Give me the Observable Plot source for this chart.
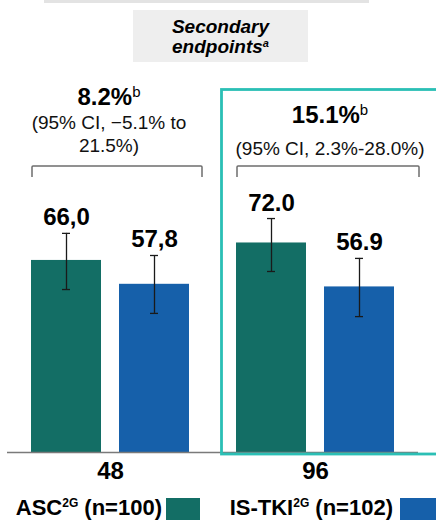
<!DOCTYPE html>
<html>
<head>
<meta charset="utf-8">
<script src="https://cdn.jsdelivr.net/npm/d3@7"></script>
<script src="https://cdn.jsdelivr.net/npm/@observablehq/plot@0.6"></script>
<style>
  html, body { margin: 0; padding: 0; background: #fff; }
  #chart svg { display: block; }
</style>
</head>
<body>
<div id="chart"></div>
<script>
// ---- data ----
const weekTicks = [48, 96];
const armNames = ["ASC", "IS-TKI"];
const armColors = ["#136e65", "#1660aa"];
const barWeeks = [48, 48, 96, 96];
const barArms = ["ASC", "IS-TKI", "ASC", "IS-TKI"];
const barValues = [66.0, 57.8, 72.0, 56.9];
const ciLow = [56.0, 47.8, 62.2, 46.7];
const ciHigh = [75.3, 67.7, 80.4, 66.7];
const valueLabels = ["66,0", "57,8", "72.0", "56.9"];
const diffLabels = ["8.2%", "15.1%"];
const diffCILines = [["(95% CI, \u22125.1% to", "21.5%)"], ["(95% CI, 2.3%-28.0%)"]];
const legendLabels = [["ASC", "2G", " (n=100)"], ["IS-TKI", "2G", " (n=102)"]];
const titleLines = ["Secondary", "endpoints"];

const rows = barValues.map((v, i) => ({
  week: barWeeks[i], arm: barArms[i], value: v, lo: ciLow[i], hi: ciHigh[i], label: valueLabels[i]
}));

const font = "Liberation Sans, Arial, Helvetica, sans-serif";

const plot = Plot.plot({
  width: 436, height: 520,
  marginTop: 161, marginBottom: 68, marginLeft: 29, marginRight: 41,
  style: {fontFamily: font, background: "#fff", overflow: "visible"},
  fx: {domain: weekTicks, paddingInner: 0.221, paddingOuter: 0, axis: null},
  x: {domain: armNames, paddingInner: 0.2, paddingOuter: 0, axis: null},
  y: {domain: [0, 100], axis: null},
  color: {domain: armNames, range: armColors},
  marks: [
    Plot.barY(rows, {fx: "week", x: "arm", y: "value", fill: "arm"}),
    Plot.ruleX(rows, {fx: "week", x: "arm", y1: "lo", y2: "hi", stroke: "#1a1a1a", strokeWidth: 1.3}),
    Plot.tickY(rows, {fx: "week", x: "arm", y: "lo", insetLeft: 31, insetRight: 31, stroke: "#1a1a1a", strokeWidth: 1.3}),
    Plot.tickY(rows, {fx: "week", x: "arm", y: "hi", insetLeft: 31, insetRight: 31, stroke: "#1a1a1a", strokeWidth: 1.3}),
    Plot.text(rows, {fx: "week", x: "arm", y: "hi", text: "label", lineAnchor: "bottom", dy: -8,
      fontSize: 24, fontWeight: "bold", fill: "#000"}),
    Plot.text(weekTicks.map(w => ({week: w})), {fx: "week", text: d => String(d.week), frameAnchor: "bottom",
      lineAnchor: "bottom", dy: 26, fontSize: 24, fontWeight: "bold", fill: "#000"})
  ]
});

document.getElementById("chart").appendChild(plot);

// ---- decorations ----
const svg = d3.select(plot);
const fx = plot.scale("fx");
const groupCenter = k => fx.apply(k) + fx.bandwidth / 2;
const annotShift = [-1, 15];
const yZero = plot.scale("y").apply(0);

const deco = svg.insert("g", ":first-child");
// top strip
deco.append("rect").attr("x", 44).attr("y", 0).attr("width", 325).attr("height", 3).attr("fill", "#e3e3e3");
// title box
deco.append("rect").attr("x", 133).attr("y", 10).attr("width", 175).attr("height", 52).attr("fill", "#eeeeee");

const over = svg.append("g").attr("font-family", font);
over.append("text").attr("x", 220.5).attr("y", 33).attr("text-anchor", "middle")
  .attr("font-size", 19).attr("font-weight", "bold").attr("font-style", "italic").text(titleLines[0]);
const t2 = over.append("text").attr("x", 220.5).attr("y", 53).attr("text-anchor", "middle")
  .attr("font-size", 19).attr("font-weight", "bold").attr("font-style", "italic");
t2.append("tspan").text(titleLines[1]);
t2.append("tspan").attr("font-size", 11).attr("dy", -6).text("a");

// baseline
over.append("line").attr("x1", 7).attr("x2", 418).attr("y1", yZero + 0.5).attr("y2", yZero + 0.5)
  .attr("stroke", "#7a7a7a").attr("stroke-width", 1.6);

// highlight box
over.append("rect").attr("x", 221.5).attr("y", 89.5).attr("width", 230).attr("height", 364.5)
  .attr("fill", "none").attr("stroke", "#2bbfb5").attr("stroke-width", 2.8);

// brackets
const brackets = [[32, 202], [237, 419]];
brackets.forEach(([a, b]) => {
  over.append("path").attr("d", `M${a},177V167Q${a},166 ${a+1},166H${b-1}Q${b},166 ${b},167V177`)
    .attr("fill", "none").attr("stroke", "#6e6e6e").attr("stroke-width", 1.5);
});

// difference annotations
const headBase = [105, 123];
const ciBase = [[129, 152], [155]];
weekTicks.forEach((w, i) => {
  const cx = groupCenter(w) + annotShift[i];
  const h = over.append("text").attr("x", cx).attr("y", headBase[i]).attr("text-anchor", "middle")
    .attr("font-size", 24).attr("font-weight", "bold").attr("fill", "#000");
  h.append("tspan").text(diffLabels[i]);
  h.append("tspan").attr("font-size", 15).attr("font-weight", "normal").attr("dy", -8).text("b");
  diffCILines[i].forEach((line, j) => {
    over.append("text").attr("x", cx).attr("y", ciBase[i][j]).attr("text-anchor", "middle")
      .attr("font-size", 19).attr("fill", "#111").text(line);
  });
});

// legend
const legendTextEnd = [162, 393];
const legendSwatch = [[166, 34], [400, 36]];
legendLabels.forEach((parts, i) => {
  const t = over.append("text").attr("x", legendTextEnd[i]).attr("y", 515).attr("text-anchor", "end")
    .attr("font-size", 22).attr("font-weight", "bold").attr("fill", "#000");
  t.append("tspan").text(parts[0]);
  t.append("tspan").attr("font-size", 12).attr("dy", -8).text(parts[1]);
  t.append("tspan").attr("dy", 8).text(parts[2]);
  over.append("rect").attr("x", legendSwatch[i][0]).attr("y", 498).attr("width", legendSwatch[i][1]).attr("height", 24)
    .attr("fill", armColors[i]);
});
</script>
</body>
</html>
